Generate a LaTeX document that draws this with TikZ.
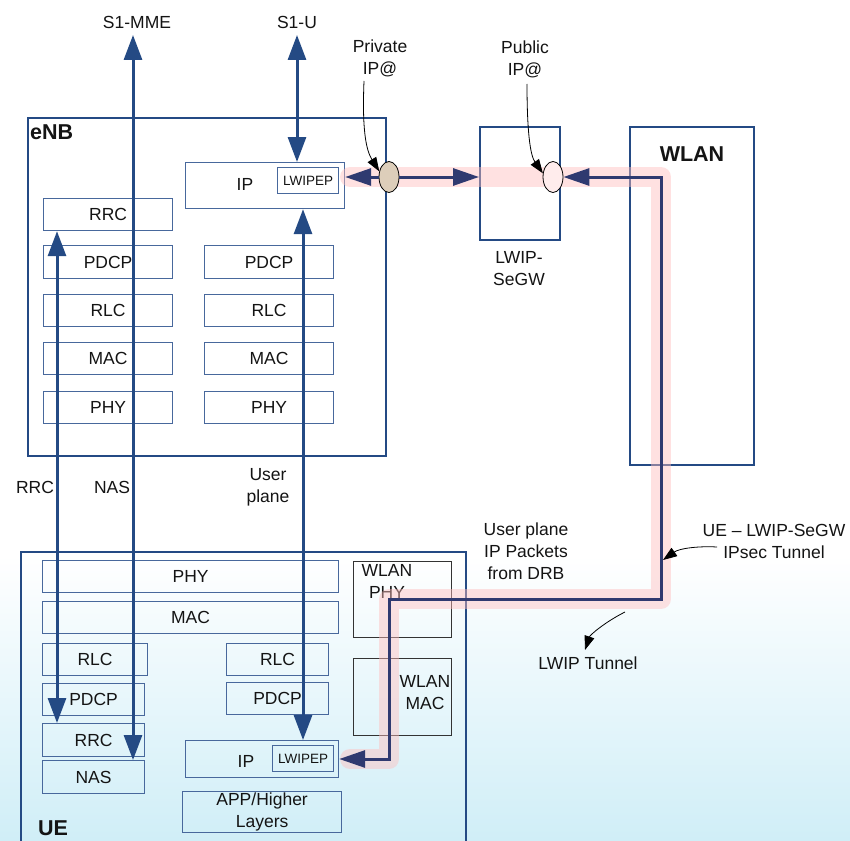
\documentclass[tikz,border=0pt]{standalone}
\usepackage{fontspec}
\setmainfont{Liberation Sans}
\usetikzlibrary{arrows.meta,shapes.geometric}
\definecolor{navy}{RGB}{36,74,132}
\definecolor{lay}{RGB}{72,104,156}
\definecolor{tun}{RGB}{47,58,112}
\definecolor{band}{RGB}{255,190,190}
\definecolor{sky}{RGB}{208,238,247}
\definecolor{tan}{RGB}{221,206,186}
\definecolor{pinkfill}{RGB}{255,236,236}
\definecolor{txt}{RGB}{20,20,20}
\newcommand{\fs}{\fontsize{17.5}{22}\selectfont}
\newcommand{\fsm}{\fontsize{13.5}{16}\selectfont}
\newcommand{\fb}{\fontsize{21.5}{24}\selectfont\bfseries}
\begin{document}
\begin{tikzpicture}[x=1pt,y=-1pt,
  every node/.style={text=txt},
  layer/.style={draw=lay, line width=1.2pt, inner sep=0pt, anchor=north west, font=\fs},
  lwbox/.style={draw=lay, line width=1.2pt, inner sep=0pt, anchor=north west, font=\fsm,
     minimum width=61pt, minimum height=26pt},
  wbox/.style={draw=black!80, line width=1.1pt, inner sep=0pt, anchor=north west},
  bigbox/.style={draw=navy, line width=2.4pt, inner sep=0pt, anchor=north west},
  lbl/.style={font=\fs, align=center, inner sep=0pt},
  s1/.style={draw=navy, line width=3pt, {Triangle[length=25pt,width=18pt]}-{Triangle[length=25pt,width=18pt]}},
  tunl/.style={draw=tun, line width=3pt},
  tuntip/.style={Triangle[length=26pt,width=17pt]},
  ann/.style={draw=black, line width=0.8pt, -{Triangle[length=14pt,width=10pt]}},
  ipaddr/.style={ellipse, draw=black, line width=0.8pt, minimum width=20pt, minimum height=31pt, inner sep=0pt},
]
\useasboundingbox (0,0) rectangle (850,840);
\fill[white] (0,0) rectangle (850,840);
\shade[top color=white, bottom color=sky] (0,555) rectangle (850,840);

% eNB
\node[bigbox, minimum width=358pt, minimum height=338pt] (enb) at (27,117) {};
\node[font=\fb, anchor=west, inner sep=0pt] (enbt) at (30,132) {eNB};
\node[layer, minimum width=159pt, minimum height=46pt] (ipE) at (185,162) {};
\node[lbl] (ipEt) at (245,184) {IP};
\node[lwbox] (lwE) at (277,167) {LWIPEP};
\node[layer, minimum width=129pt, minimum height=32pt] (rrcE) at (43,198) {RRC};
\node[layer, minimum width=129pt, minimum height=33pt] (pdcpE) at (43,245) {PDCP};
\node[layer, minimum width=129pt, minimum height=32pt] (rlcE) at (43,294) {RLC};
\node[layer, minimum width=129pt, minimum height=32pt] (macE) at (43,342) {MAC};
\node[layer, minimum width=129pt, minimum height=32pt] (phyE) at (43,391) {PHY};
\node[layer, minimum width=129pt, minimum height=33pt] (pdcpE2) at (204,245) {PDCP};
\node[layer, minimum width=129pt, minimum height=32pt] (rlcE2) at (204,294) {RLC};
\node[layer, minimum width=129pt, minimum height=32pt] (macE2) at (204,342) {MAC};
\node[layer, minimum width=129pt, minimum height=32pt] (phyE2) at (204,391) {PHY};

% SeGW and WLAN
\node[bigbox, minimum width=80pt, minimum height=113pt] (segw) at (479,126) {};
\node[lbl] (segwt) at (519,269) {LWIP-\\SeGW};
\node[bigbox, minimum width=124pt, minimum height=338pt] (wlan) at (629,126) {};
\node[font=\fb, inner sep=0pt] (wlant) at (692,154) {WLAN};

% UE
\draw[navy, line width=2pt] (21,842) -- (21,552) -- (466,552) -- (466,842);
\node[font=\fb, anchor=west, inner sep=0pt] (uet) at (38,828) {UE};
\node[layer, minimum width=296pt, minimum height=32pt] (phyU) at (42,560) {PHY};
\node[layer, minimum width=296pt, minimum height=32pt] (macU) at (42,601) {MAC};
\node[layer, minimum width=105pt, minimum height=32pt] (rlcU) at (42,643) {RLC};
\node[layer, minimum width=102pt, minimum height=32pt] (pdcpU) at (42,683) {PDCP};
\node[layer, minimum width=102pt, minimum height=33pt] (rrcU) at (42,723) {RRC};
\node[layer, minimum width=102pt, minimum height=33pt] (nasU) at (42,760) {NAS};
\node[layer, minimum width=102pt, minimum height=32pt] (rlcU2) at (226,643) {RLC};
\node[layer, minimum width=102pt, minimum height=32pt] (pdcpU2) at (226,682) {PDCP};
\node[layer, minimum width=153pt, minimum height=37pt] (ipU) at (185,740) {};
\node[lbl] (ipUt) at (246,761) {IP};
\node[lwbox] (lwU) at (272,745) {LWIPEP};
\node[layer, minimum width=159pt, minimum height=41pt, align=center, font=\fontsize{17.5}{22}\selectfont] (app) at (182,791) {APP/Higher\\Layers};
\node[wbox, minimum width=98pt, minimum height=76pt] (wphy) at (353,561) {};
\node[lbl] (wphyt) at (387,581) {WLAN\\PHY};
\node[wbox, minimum width=98pt, minimum height=77pt] (wmac) at (353,658) {};
\node[lbl] (wmact) at (425,693) {WLAN\\MAC};

% labels
\node[lbl] (s1mme) at (137,22) {S1-MME};
\node[lbl] (s1u) at (297,22) {S1-U};
\node[lbl] (privt) at (380,58) {Private\\IP@};
\node[lbl] (pubt) at (525,59) {Public\\IP@};
\node[lbl] (rrclbl) at (35,487) {RRC};
\node[lbl] (naslbl) at (112,487) {NAS};
\node[lbl] (uplbl) at (268,487) {User\\plane};
\node[lbl] (drbt) at (526,551) {User plane\\IP Packets\\from DRB};
\node[lbl] (ipsect) at (774,541) {UE -- LWIP-SeGW\\IPsec Tunnel};
\node[lbl] (lwipt) at (588,663) {LWIP Tunnel};

% tunnel corner points
\coordinate (c1) at (661,177);
\coordinate (c2) at (661,599);
\coordinate (c3) at (389,599);
\coordinate (c4) at (389,759);
\coordinate (bandA) at (350,177);
\coordinate (bandB) at (350,759);

% pink band
\draw[band, opacity=0.45, line width=20pt, line cap=round, line join=round]
  (bandA) -- (c1) -- (c2) -- (c3) -- (c4) -- (bandB);

% ellipses
\node[ipaddr, fill=tan] (privIP) at (389,177) {};
\node[ipaddr, fill=pinkfill] (pubIP) at (553,177) {};

% tunnel lines
\draw[tunl, -{Triangle[length=26pt,width=17pt]}] (privIP.west) -- (ipE.east |- privIP.west);
\draw[tunl, -{Triangle[length=26pt,width=17pt]}] (privIP.east) -- (segw.west |- privIP.east);
\draw[tunl, {Triangle[length=26pt,width=17pt]}-{Triangle[length=26pt,width=17pt]}, line join=miter]
  (pubIP.east) -- (c1) -- (c2) -- (c3) -- (c4) -- (ipU.east |- c4);

% vertical protocol arrows
\coordinate (mmeTop) at (133,35);
\coordinate (s1uTop) at (297,35);
\coordinate (rrcX) at (57,0);
\coordinate (upX) at (303,0);
\draw[s1] (mmeTop) -- (mmeTop |- nasU.north);
\draw[s1] (s1uTop) -- (s1uTop |- ipE.north);
\draw[s1] (rrcX |- rrcE.south) -- (rrcX |- rrcU.north);
\draw[s1] (upX |- ipE.south) -- (upX |- ipU.north);

% annotation arrows
\coordinate (privS) at (364,81);
\coordinate (pubS) at (527,84);
\coordinate (ipsS) at (717,547);
\coordinate (ipsE) at (663,560);
\coordinate (lwS) at (625,612);
\coordinate (lwE2) at (585,650);
\draw[ann] (privS) .. controls (362,130) and (366,150) .. (privIP.150);
\draw[ann] (pubS) .. controls (527,130) and (530,155) .. (pubIP.160);
\draw[ann] (ipsS) .. controls (700,546) and (680,548) .. (ipsE);
\draw[ann] (lwS) .. controls (605,622) and (590,635) .. (lwE2);
\end{tikzpicture}
\end{document}
